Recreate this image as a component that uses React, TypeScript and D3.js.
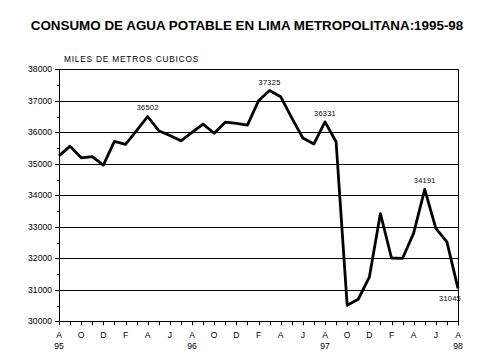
import React from "react";
import * as d3 from "d3";

const title = "CONSUMO DE AGUA POTABLE EN LIMA METROPOLITANA:1995-98";
const yAxisTitle = "MILES DE METROS CUBICOS";

// Monthly consumption, Aug 1995 .. Aug 1998 (37 months)
const values: number[] = [
  35250, 35560, 35190, 35230, 34960, 35710, 35620, 36050, 36502, 36050,
  35900, 35730, 36000, 36260, 35970, 36320, 36280, 36230, 37000, 37325,
  37130, 36460, 35820, 35630, 36331, 35700, 30510, 30700, 31400, 33420,
  32010, 32000, 32800, 34191, 32950, 32520, 31045,
];

// month labels every 2 months starting Aug 1995
const monthLabels = ["A", "O", "D", "F", "A", "J", "A", "O", "D", "F", "A", "J", "A", "O", "D", "F", "A", "J", "A"];
const yearLabels = ["95", "96", "97", "98"];
const yearIndex = [0, 12, 24, 36];

const yTicks = [30000, 31000, 32000, 33000, 34000, 35000, 36000, 37000, 38000];
const yMinor = [30500, 31500, 32500, 33500, 34500, 35500, 36500, 37500];

// indices of labelled points
const labelled = [8, 19, 24, 33, 36];

const W = 479;
const H = 359;
const FONT = "'Liberation Sans', Arial, sans-serif";

export default function App() {
  const x = d3.scaleLinear().domain([0, values.length - 1]).range([59, 458]);
  const y = d3.scaleLinear().domain([30000, 38000]).range([321.3, 69.3]);
  const line = d3
    .line<number>()
    .x((_, i) => x(i))
    .y((d) => y(d));

  const x0 = x(0);
  const x1 = x(values.length - 1);
  const yb = y(30000);
  const yt = y(38000);

  return (
    <svg
      width={W}
      height={H}
      style={{ position: "absolute", left: 0, top: 0, background: "#fff" }}
      fontFamily={FONT}
    >
      <rect x={0} y={0} width={W} height={H} fill="#fff" />
      <text x={247} y={30} textAnchor="middle" fontSize={13.4} fontWeight="bold" fill="#000">
        {title}
      </text>
      <text x={64} y={62} fontSize={8.3} letterSpacing={0.8} fill="#000">
        {yAxisTitle}
      </text>

      {/* grid lines */}
      {yTicks.map((t) => (
        <line key={"g" + t} x1={x0} x2={x1} y1={Math.round(y(t)) + 0.5} y2={Math.round(y(t)) + 0.5} stroke="#000" strokeWidth={1} />
      ))}
      {/* y axis + right border */}
      <line x1={x0 + 0.5} x2={x0 + 0.5} y1={yt} y2={yb + 0.5} stroke="#000" />
      <line x1={x1 + 0.5} x2={x1 + 0.5} y1={yt} y2={yb + 4} stroke="#000" />

      {/* y ticks */}
      {yTicks.map((t) => (
        <g key={"yt" + t}>
          <line x1={x0 - 4} x2={x0} y1={Math.round(y(t)) + 0.5} y2={Math.round(y(t)) + 0.5} stroke="#000" />
          <text x={52} y={y(t) + 3} textAnchor="end" fontSize={8.6} fill="#000">
            {t}
          </text>
        </g>
      ))}
      {yMinor.map((t) => (
        <line key={"ym" + t} x1={x0 - 2} x2={x0} y1={Math.round(y(t)) + 0.5} y2={Math.round(y(t)) + 0.5} stroke="#000" />
      ))}

      {/* x ticks */}
      {values.map((_, i) => (
        <line key={"xt" + i} x1={Math.round(x(i)) + 0.5} x2={Math.round(x(i)) + 0.5} y1={yb} y2={yb + 4} stroke="#000" />
      ))}
      {monthLabels.map((m, k) => (
        <text key={"ml" + k} x={x(k * 2)} y={337.5} textAnchor="middle" fontSize={8.6} fill="#000">
          {m}
        </text>
      ))}
      {yearLabels.map((yl, k) => (
        <text key={"yl" + k} x={x(yearIndex[k])} y={348.5} textAnchor="middle" fontSize={8.6} fill="#000">
          {yl}
        </text>
      ))}

      {/* data line */}
      <path d={line(values) || ""} fill="none" stroke="#000" strokeWidth={2.8} strokeLinejoin="round" />

      {/* data labels */}
      {labelled.map((i) => {
        const last = i === values.length - 1;
        return (
          <text
            key={"dl" + i}
            x={last ? x(i) - 8 : x(i)}
            y={last ? y(values[i]) + 13 : y(values[i]) - 6}
            textAnchor="middle"
            fontSize={7.4}
            letterSpacing={0.3}
            fill="#000"
          >
            {values[i]}
          </text>
        );
      })}
    </svg>
  );
}
